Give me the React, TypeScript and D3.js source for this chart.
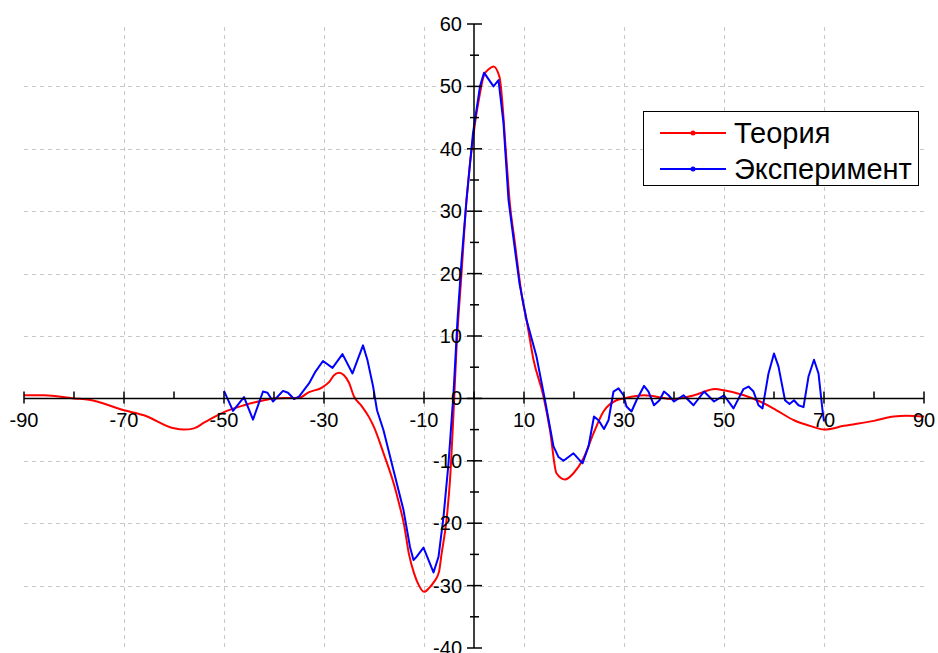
import React from 'react';
import * as d3 from 'd3';

// Теория (red)
const theoryX = [-90, -86, -80, -77, -70, -66, -60, -58, -56, -54, -52, -50, -46, -42, -40, -35, -33, -30.5, -29, -28, -27, -26, -25, -24, -22.5, -21, -20, -18, -16, -15, -14, -13, -12, -11, -10, -9, -8, -7, -6.5, -5.5, -4.8, -4.1, -3.5, -2.5, -1.5, 0.2, 1, 2, 3, 3.9, 5.1, 6.5, 7.1, 8.1, 9.7, 10.5, 11.9, 13.9, 15.2, 16.5, 18.2, 19.9, 21.9, 23.9, 25.9, 28.5, 30, 34, 40, 44, 48.2, 50, 54, 57.2, 60.5, 64, 67.2, 70, 74, 80, 84, 86.5, 90];
const theoryY = [0.5, 0.5, 0, -0.2, -1.9, -2.7, -4.8, -5.0, -4.8, -3.9, -3.0, -2.2, -1.1, -0.3, 0, 0.1, 1.0, 1.7, 2.6, 3.7, 4.1, 3.7, 2.5, 0.3, -1.2, -3.0, -4.6, -9.0, -13.8, -16.8, -20.2, -25.0, -28.0, -30.0, -31.0, -30.4, -29.4, -27.8, -25.0, -19.5, -13.1, -2.4, 8, 20, 31.8, 44.1, 48, 51.8, 52.8, 53.2, 51.5, 38.2, 31.8, 25.4, 15.8, 12.6, 6.2, 0.3, -5.1, -12.0, -13.0, -12.0, -9.6, -5.6, -2.1, -0.3, 0, 0.5, -0.1, 0.5, 1.5, 1.3, 0.5, -0.5, -1.9, -3.5, -4.4, -5.0, -4.4, -3.6, -2.9, -2.8, -2.9];

// Эксперимент (blue)
const expX = [-50, -48.2, -46, -44.2, -42.2, -41.3, -40.2, -38.2, -37.2, -36, -35, -33, -31.7, -30.2, -28.3, -26.3, -24.3, -22.2, -21.3, -20.2, -19.4, -18.1, -16.1, -14.1, -12.8, -12.1, -11.5, -10.1, -8.1, -7.1, -6.1, -5.1, -4.1, -3.3, -2.5, -1.5, -0.2, 1.2, 2.0, 3.9, 4.9, 5.9, 6.9, 8.0, 9.1, 10.5, 12.5, 14.2, 15.9, 16.9, 17.9, 19.9, 21.7, 22.9, 24.0, 24.9, 26.0, 26.9, 27.9, 28.9, 29.9, 30.5, 31.5, 32.5, 34.0, 34.9, 36.0, 37.1, 38.0, 38.9, 40.0, 41.9, 43.9, 46.0, 48.0, 50.0, 51.9, 53.9, 54.9, 55.9, 56.9, 57.7, 58.9, 60.0, 60.9, 62.2, 63.1, 64.0, 64.9, 65.9, 66.9, 68.0, 68.9, 69.7, 70.0];
const expY = [1.2, -2.0, 0.2, -3.4, 1.1, 0.9, -0.5, 1.2, 0.9, -0.1, 0.3, 2.4, 4.3, 6.0, 4.9, 7.1, 4.0, 8.5, 6.1, 2.0, -1.9, -5.1, -11.5, -17.9, -23.8, -25.9, -25.4, -23.9, -27.9, -25.4, -19.0, -10.4, 0.8, 12.6, 22, 31.8, 42.5, 50.0, 52.2, 50.0, 51.0, 44.1, 31.8, 25, 18.4, 12.6, 6.7, -0.3, -7.7, -9.4, -10.0, -8.8, -10.4, -7.7, -2.9, -3.5, -4.9, -3.5, 1.1, 1.6, 0.5, -1.3, -2.1, -0.3, 2.0, 1.1, -1.1, -0.3, 1.1, 0.5, -0.5, 0.5, -1.1, 1.1, -0.5, 0.5, -1.6, 1.5, 1.9, 1.1, -1.1, -1.6, 4.0, 7.2, 5.1, -0.3, -0.9, -0.3, -1.1, -1.4, 3.5, 6.2, 4.0, -1.9, -3.7];

const xLabels = [-90, -70, -50, -30, -10, 10, 30, 50, 70, 90];
const yLabels = [60, 50, 40, 30, 20, 10, 0, -10, -20, -30, -40];
const xGrid = [-70, -50, -30, -10, 10, 30, 50, 70];
const yGrid = [50, 40, 30, 20, 10, -10, -20, -30];
const xMinor = [-80, -60, -40, -20, 0, 20, 40, 60, 80];
const yMinor = [55, 45, 35, 25, 15, 5, -5, -15, -25, -35];

const seriesNames = ['Теория', 'Эксперимент'];
const seriesColors = ['#ff0000', '#0000ff'];

const W = 938;
const H = 653;
const font = '"Liberation Sans", Arial, sans-serif';

const App = () => {
  const x = d3.scaleLinear().domain([-90, 90]).range([24, 924]);
  const y = d3.scaleLinear().domain([-40, 60]).range([648, 24]);
  const x0 = x(0);
  const y0 = y(0);

  const theory = theoryX.map((v, i) => [v, theoryY[i]] as [number, number]);
  const exp = expX.map((v, i) => [v, expY[i]] as [number, number]);

  const smooth = d3.line().x((d) => x(d[0])).y((d) => y(d[1])).curve(d3.curveMonotoneX);
  const straight = d3.line().x((d) => x(d[0])).y((d) => y(d[1]));

  return (
    <svg width={W} height={H} style={{ position: 'absolute', left: 0, top: 0, background: '#fff' }}>
      {/* grid */}
      <g stroke="#c8c8c8" strokeWidth={1} strokeDasharray="4,4">
        {xGrid.map((v) => (
          <line key={'gx' + v} x1={x(v) + 0.5} x2={x(v) + 0.5} y1={y(60) + 3} y2={y(-40)} />
        ))}
        {yGrid.map((v) => (
          <line key={'gy' + v} x1={x(-90)} x2={x(90)} y1={Math.round(y(v)) + 0.5} y2={Math.round(y(v)) + 0.5} />
        ))}
      </g>

      {/* series */}
      <path d={smooth(theory) || ''} fill="none" stroke={seriesColors[0]} strokeWidth={2} />
      <path d={straight(exp) || ''} fill="none" stroke={seriesColors[1]} strokeWidth={2} strokeLinejoin="round" />

      {/* axes */}
      <g stroke="#000" strokeWidth={1.5}>
        <line x1={x(-90)} x2={x(90)} y1={y0} y2={y0} />
        <line x1={x0} x2={x0} y1={y(60)} y2={y(-40)} />
        {xLabels.map((v) => (
          <line key={'tx' + v} x1={x(v)} x2={x(v)} y1={y0 - 7} y2={y0 + 5} />
        ))}
        {xMinor.map((v) => (
          <line key={'mx' + v} x1={x(v)} x2={x(v)} y1={y0 - 7} y2={y0} />
        ))}
        {yLabels.map((v) => (
          <line key={'ty' + v} x1={x0 - 7} x2={x0 + 8} y1={y(v)} y2={y(v)} />
        ))}
        {yMinor.map((v) => (
          <line key={'my' + v} x1={x0 - 4} x2={x0 + 5} y1={y(v)} y2={y(v)} />
        ))}
      </g>

      <g fontFamily={font} fontSize={20} fill="#000">
        {xLabels.map((v) => (
          <text key={'lx' + v} x={x(v)} y={y0 + 29} textAnchor="middle">{v}</text>
        ))}
        {yLabels.map((v) => (
          <text key={'ly' + v} x={x0 - 12} y={y(v)} dy="0.35em" textAnchor="end">{v}</text>
        ))}
      </g>

      {/* legend */}
      <g>
        <rect x={643.5} y={111.5} width={275} height={74} fill="#fff" stroke="#000" strokeWidth={1} />
        {seriesNames.map((name, i) => {
          const ly = 133 + i * 36;
          return (
            <g key={name}>
              <line x1={660} x2={726} y1={ly} y2={ly} stroke={seriesColors[i]} strokeWidth={2} />
              <circle cx={693} cy={ly} r={2.5} fill={seriesColors[i]} />
              <text x={734} y={ly + 10} fontFamily={font} fontSize={29} fill="#000">{name}</text>
            </g>
          );
        })}
      </g>
    </svg>
  );
};

export default App;
